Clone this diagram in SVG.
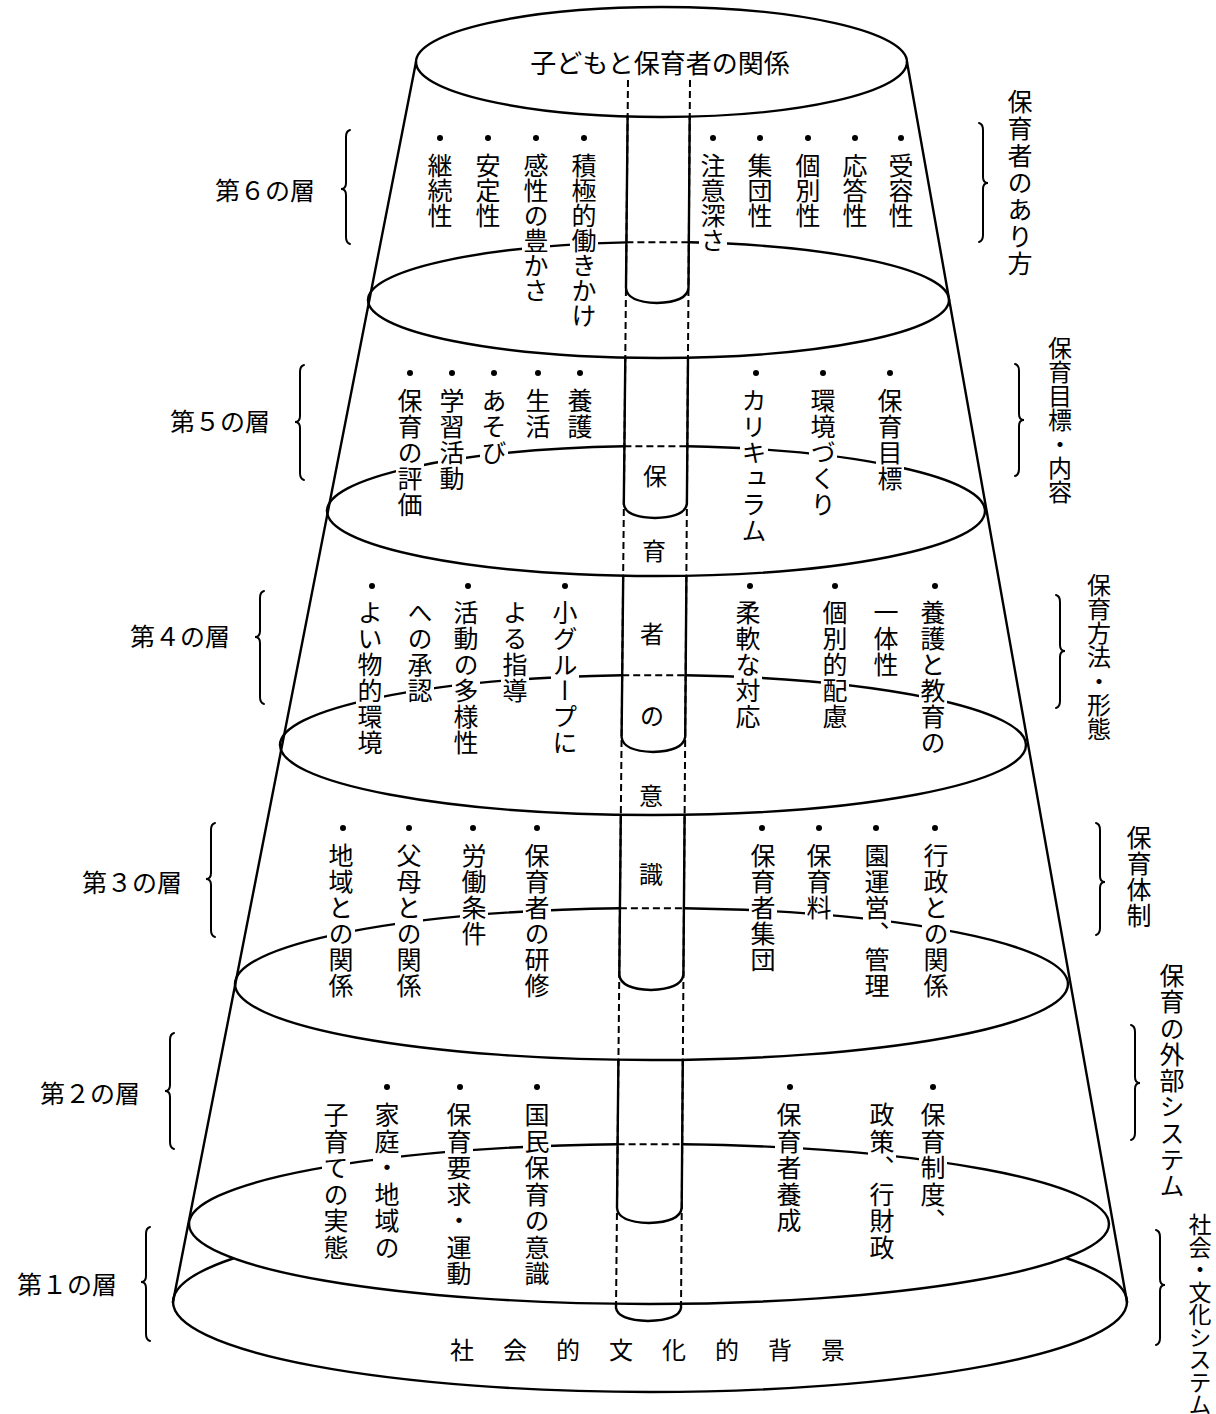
<svg xmlns="http://www.w3.org/2000/svg" width="1216" height="1414" viewBox="0 0 1216 1414">
<style>
.ln{fill:none;stroke:#000;stroke-width:2.4;stroke-linecap:round;stroke-linejoin:round}
.br{fill:none;stroke:#000;stroke-width:2;stroke-linecap:round}
.dash{fill:none;stroke:#000;stroke-width:2;stroke-dasharray:7 4}
.gap{fill:#fff}
.dot{fill:#000}
.v{font-family:"Noto Sans CJK JP","Noto Sans CJK SC",sans-serif;font-size:25px;writing-mode:vertical-rl;fill:#000}
.s1{letter-spacing:1px}
.s15{letter-spacing:1.5px}
.h{font-family:"Noto Sans CJK JP","Noto Sans CJK SC",sans-serif;font-size:25px;fill:#000}
.t{font-family:"Noto Sans CJK JP","Noto Sans CJK SC",sans-serif;font-size:24px;fill:#000;text-anchor:middle}
</style>
<rect width="1216" height="1414" fill="#fff"/>

<g id="cone">
  <path class="ln" d="M416,62 L173,1302"/>
  <path class="ln" d="M907,62 L1127,1302"/>
  <ellipse class="ln" cx="661.5" cy="62" rx="245.5" ry="55"/>
</g>

<g id="tube-dashes">
  <path class="dash" d="M628,80 L616,1310"/>
  <path class="dash" d="M690,80 L681,1310"/>
</g>

<g id="ellipses">
  <!-- B: 6/5 -->
  <path class="ln" d="M368,300 A290.5,58 0 0 1 626.4,242.35"/>
  <path class="dash" d="M626.4,242.35 L688.8,242.32"/>
  <path class="ln" d="M688.8,242.32 A290.5,58 0 0 1 949,300"/>
  <path class="ln" d="M368,300 A290.5,58 0 0 0 949,300"/>
  <!-- C: 5/4 -->
  <path class="ln" d="M327,511 A329,65 0 0 1 624.4,446.3"/>
  <path class="dash" d="M624.4,446.3 L687.3,446.3"/>
  <path class="ln" d="M687.3,446.3 A329,65 0 0 1 985,511"/>
  <path class="ln" d="M327,511 A329,65 0 0 0 985,511"/>
  <!-- D: 4/3 -->
  <path class="ln" d="M280,745 A373,70 0 0 1 622.2,675.24"/>
  <path class="dash" d="M622.2,675.24 L685.6,675.27"/>
  <path class="ln" d="M685.6,675.27 A373,70 0 0 1 1026,745"/>
  <path class="ln" d="M280,745 A373,70 0 0 0 1026,745"/>
  <!-- E: 3/2 -->
  <path class="ln" d="M235,984 A416.5,76 0 0 1 619.9,908.22"/>
  <path class="dash" d="M619.9,908.22 L683.9,908.23"/>
  <path class="ln" d="M683.9,908.23 A416.5,76 0 0 1 1068,984"/>
  <path class="ln" d="M235,984 A416.5,76 0 0 0 1068,984"/>
  <!-- F: 2/1 -->
  <path class="ln" d="M189,1224 A460,80 0 0 1 617.6,1144.19"/>
  <path class="dash" d="M617.6,1144.19 L682.2,1144.21"/>
  <path class="ln" d="M682.2,1144.21 A460,80 0 0 1 1109,1224"/>
  <path class="ln" d="M189,1224 A460,80 0 0 0 1109,1224"/>
  <!-- G: bottom -->
  <path class="ln" d="M173,1302 A477,90 0 0 1 233,1258.5"/>
  <path class="ln" d="M1066,1258 A477,90 0 0 1 1127,1302"/>
  <path class="ln" d="M173,1302 A477,90 0 0 0 1127,1302"/>
</g>

<g id="tube">
  <path class="ln" d="M627.6,116.5 L626,288 Q627,302 657,303 Q687,302 688.5,288 L689.7,116.6"/>
  <path class="ln" d="M625.3,357.6 L623.8,504 Q625,517 655,518 Q685,517 686.9,504 L688,357.7"/>
  <path class="ln" d="M623.2,575.7 L621.6,737 Q623,751 653,752 Q683,751 685.2,737 L686.4,575.7"/>
  <path class="ln" d="M620.8,814.8 L619.3,975 Q621,989 651,990 Q681,989 683.4,975 L684.6,814.8"/>
  <path class="ln" d="M618.4,1059.8 L617,1208 Q618,1222 649,1223 Q680,1222 681.7,1208 L682.8,1059.8"/>
  <path class="ln" d="M616,1303.8 L616,1308 Q618,1320 648,1321 Q679,1320 681,1308 L681,1303.8"/>
  <text class="t" x="655" y="485">保</text>
  <text class="t" x="654" y="560">育</text>
  <text class="t" x="652" y="643">者</text>
  <text class="t" x="652" y="725">の</text>
  <text class="t" x="651" y="805">意</text>
  <text class="t" x="651" y="883">識</text>
</g>

<g id="top-label">
  <text class="h" x="660" y="73" font-size="26" text-anchor="middle" style="font-size:26px">子どもと保育者の関係</text>
</g>

<g id="layer6">
  <rect class="gap" x="426" y="151" width="28" height="79"/>
  <rect class="gap" x="474" y="151" width="28" height="79"/>
  <rect class="gap" x="522" y="151" width="28" height="154"/>
  <rect class="gap" x="570" y="151" width="28" height="179"/>
  <rect class="gap" x="699" y="151" width="28" height="104"/>
  <circle class="dot" cx="440" cy="138" r="3"/><circle class="dot" cx="488" cy="138" r="3"/>
  <circle class="dot" cx="536" cy="138" r="3"/><circle class="dot" cx="584" cy="138" r="3"/>
  <circle class="dot" cx="713" cy="138" r="3"/><circle class="dot" cx="760" cy="138" r="3"/>
  <circle class="dot" cx="808" cy="138" r="3"/><circle class="dot" cx="855" cy="138" r="3"/>
  <circle class="dot" cx="901" cy="138" r="3"/>
  <text class="v" x="440" y="153">継続性</text>
  <text class="v" x="488" y="153">安定性</text>
  <text class="v" x="536" y="153">感性の豊かさ</text>
  <text class="v" x="584" y="153">積極的働きかけ</text>
  <text class="v" x="713" y="153">注意深さ</text>
  <text class="v" x="760" y="153">集団性</text>
  <text class="v" x="808" y="153">個別性</text>
  <text class="v" x="855" y="153">応答性</text>
  <text class="v" x="901" y="153">受容性</text>
</g>

<g id="layer5">
  <rect class="gap" x="396" y="386" width="28" height="134"/>
  <rect class="gap" x="438" y="386" width="28" height="108"/>
  <rect class="gap" x="480" y="386" width="28" height="82"/>
  <rect class="gap" x="740" y="386" width="28" height="160"/>
  <rect class="gap" x="809" y="386" width="28" height="134"/>
  <rect class="gap" x="876" y="386" width="28" height="108"/>
  <circle class="dot" cx="410" cy="373" r="3"/><circle class="dot" cx="452" cy="373" r="3"/>
  <circle class="dot" cx="494" cy="373" r="3"/><circle class="dot" cx="538" cy="373" r="3"/>
  <circle class="dot" cx="580" cy="373" r="3"/><circle class="dot" cx="756" cy="373" r="3"/>
  <circle class="dot" cx="823" cy="373" r="3"/><circle class="dot" cx="890" cy="373" r="3"/>
  <text class="v s1" x="410" y="388">保育の評価</text>
  <text class="v s1" x="452" y="388">学習活動</text>
  <text class="v s1" x="494" y="388">あそび</text>
  <text class="v s1" x="538" y="388">生活</text>
  <text class="v s1" x="580" y="388">養護</text>
  <text class="v s1" x="754" y="388">カリキュラム</text>
  <text class="v s1" x="823" y="388">環境づくり</text>
  <text class="v s1" x="890" y="388">保育目標</text>
</g>

<g id="layer4">
  <rect class="gap" x="356" y="598" width="28" height="160"/>
  <rect class="gap" x="406" y="598" width="28" height="108"/>
  <rect class="gap" x="452" y="598" width="28" height="160"/>
  <rect class="gap" x="501" y="598" width="28" height="108"/>
  <rect class="gap" x="551" y="598" width="28" height="160"/>
  <rect class="gap" x="734" y="598" width="28" height="134"/>
  <rect class="gap" x="821" y="598" width="28" height="134"/>
  <rect class="gap" x="872" y="598" width="28" height="82"/>
  <rect class="gap" x="919" y="598" width="28" height="160"/>
  <circle class="dot" cx="372" cy="586" r="3"/><circle class="dot" cx="468" cy="586" r="3"/>
  <circle class="dot" cx="565" cy="586" r="3"/><circle class="dot" cx="750" cy="586" r="3"/>
  <circle class="dot" cx="835" cy="586" r="3"/><circle class="dot" cx="935" cy="586" r="3"/>
  <text class="v s1" x="370" y="600">よい物的環境</text>
  <text class="v s1" x="420" y="600">への承認</text>
  <text class="v s1" x="466" y="600">活動の多様性</text>
  <text class="v s1" x="515" y="600">よる指導</text>
  <text class="v s1" x="565" y="600">小グループに</text>
  <text class="v s1" x="748" y="600">柔軟な対応</text>
  <text class="v s1" x="835" y="600">個別的配慮</text>
  <text class="v s1" x="886" y="600">一体性</text>
  <text class="v s1" x="933" y="600">養護と教育の</text>
</g>

<g id="layer3">
  <rect class="gap" x="327" y="841" width="28" height="160"/>
  <rect class="gap" x="395" y="841" width="28" height="160"/>
  <rect class="gap" x="460" y="841" width="28" height="108"/>
  <rect class="gap" x="523" y="841" width="28" height="160"/>
  <rect class="gap" x="749" y="841" width="28" height="134"/>
  <rect class="gap" x="805" y="841" width="28" height="82"/>
  <rect class="gap" x="863" y="841" width="28" height="160"/>
  <rect class="gap" x="922" y="841" width="28" height="160"/>
  <circle class="dot" cx="343" cy="828" r="3"/><circle class="dot" cx="409" cy="828" r="3"/>
  <circle class="dot" cx="473" cy="828" r="3"/><circle class="dot" cx="537" cy="828" r="3"/>
  <circle class="dot" cx="762" cy="828" r="3"/><circle class="dot" cx="819" cy="828" r="3"/>
  <circle class="dot" cx="876" cy="828" r="3"/><circle class="dot" cx="935" cy="828" r="3"/>
  <text class="v s1" x="341" y="843">地域との関係</text>
  <text class="v s1" x="409" y="843">父母との関係</text>
  <text class="v s1" x="474" y="843">労働条件</text>
  <text class="v s1" x="537" y="843">保育者の研修</text>
  <text class="v s1" x="763" y="843">保育者集団</text>
  <text class="v s1" x="819" y="843">保育料</text>
  <text class="v s1" x="877" y="843">園運営、管理</text>
  <text class="v s1" x="936" y="843">行政との関係</text>
</g>

<g id="layer2">
  <rect class="gap" x="322" y="1100" width="28" height="163"/>
  <rect class="gap" x="373" y="1100" width="28" height="163"/>
  <rect class="gap" x="445" y="1100" width="28" height="189"/>
  <rect class="gap" x="523" y="1100" width="28" height="189"/>
  <rect class="gap" x="775" y="1100" width="28" height="136"/>
  <rect class="gap" x="868" y="1100" width="28" height="163"/>
  <rect class="gap" x="919" y="1100" width="28" height="136"/>
  <circle class="dot" cx="387" cy="1087" r="3"/><circle class="dot" cx="460" cy="1087" r="3"/>
  <circle class="dot" cx="537" cy="1087" r="3"/><circle class="dot" cx="790" cy="1087" r="3"/>
  <circle class="dot" cx="933" cy="1087" r="3"/>
  <text class="v s15" x="336" y="1102">子育ての実態</text>
  <text class="v s15" x="387" y="1102">家庭・地域の</text>
  <text class="v s15" x="459" y="1102">保育要求・運動</text>
  <text class="v s15" x="537" y="1102">国民保育の意識</text>
  <text class="v s15" x="789" y="1102">保育者養成</text>
  <text class="v s15" x="882" y="1102">政策、行財政</text>
  <text class="v s15" x="933" y="1102">保育制度、</text>
</g>

<g id="layer1">
  <text class="h" x="450" y="1359" style="font-size:24px;letter-spacing:29px">社会的文化的背景</text>
</g>

<g id="left-labels">
  <text class="h" x="315" y="200" text-anchor="end">第６の層</text>
  <text class="h" x="270" y="431" text-anchor="end">第５の層</text>
  <text class="h" x="230" y="646" text-anchor="end">第４の層</text>
  <text class="h" x="182" y="892" text-anchor="end">第３の層</text>
  <text class="h" x="140" y="1103" text-anchor="end">第２の層</text>
  <text class="h" x="117" y="1294" text-anchor="end">第１の層</text>
  <path class="br" d="M350,130 Q346,131 346,137 L346,183 Q346,189 341,189 Q346,189 346,195 L346,237 Q346,243 350,244"/>
  <path class="br" d="M304,365 Q300,366 300,372 L300,416 Q300,422 295,422 Q300,422 300,428 L300,473 Q300,479 304,480"/>
  <path class="br" d="M264,591 Q260,592 260,598 L260,631 Q260,637 255,637 Q260,637 260,643 L260,697 Q260,703 264,704"/>
  <path class="br" d="M215,823 Q211,824 211,830 L211,873 Q211,879 206,879 Q211,879 211,885 L211,930 Q211,936 215,937"/>
  <path class="br" d="M174,1033 Q170,1034 170,1040 L170,1085 Q170,1091 165,1091 Q170,1091 170,1097 L170,1142 Q170,1148 174,1149"/>
  <path class="br" d="M150,1227 Q146,1228 146,1234 L146,1276 Q146,1282 141,1282 Q146,1282 146,1288 L146,1334 Q146,1340 150,1341"/>
</g>

<g id="right-labels">
  <path class="br" d="M979,123 Q983,124 983,130 L983,177 Q983,183 988,183 Q983,183 983,189 L983,235 Q983,241 979,242"/>
  <path class="br" d="M1015,364 Q1019,365 1019,371 L1019,414 Q1019,420 1024,420 Q1019,420 1019,426 L1019,469 Q1019,475 1015,476"/>
  <path class="br" d="M1056,595 Q1060,596 1060,602 L1060,645 Q1060,651 1065,651 Q1060,651 1060,657 L1060,701 Q1060,707 1056,708"/>
  <path class="br" d="M1096,823 Q1100,824 1100,830 L1100,876 Q1100,882 1105,882 Q1100,882 1100,888 L1100,928 Q1100,934 1096,935"/>
  <path class="br" d="M1131,1025 Q1135,1026 1135,1032 L1135,1077 Q1135,1083 1140,1083 Q1135,1083 1135,1089 L1135,1133 Q1135,1139 1131,1140"/>
  <path class="br" d="M1156,1230 Q1160,1231 1160,1237 L1160,1279 Q1160,1285 1165,1285 Q1160,1285 1160,1291 L1160,1338 Q1160,1344 1156,1345"/>
  <text class="v" x="1020" y="89" style="letter-spacing:2px">保育者のあり方</text>
  <text class="v" x="1060" y="336" style="font-size:24px">保育目標・内容</text>
  <text class="v" x="1099" y="573" style="font-size:24px">保育方法・形態</text>
  <text class="v s1" x="1139" y="825">保育体制</text>
  <text class="v" x="1172" y="963" style="letter-spacing:1.3px">保育の外部システム</text>
  <text class="v" x="1200" y="1213" style="font-size:23px;letter-spacing:-0.5px">社会・文化システム</text>
</g>
</svg>
